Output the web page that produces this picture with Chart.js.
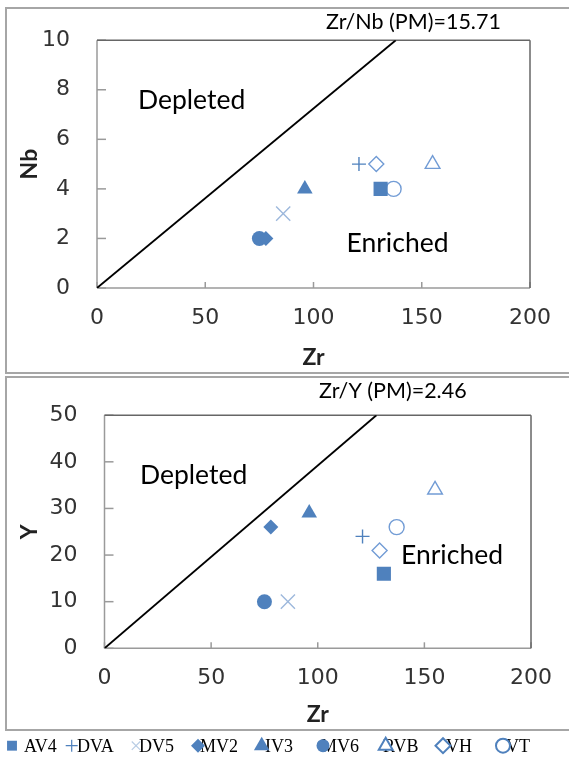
<!DOCTYPE html>
<html><head><meta charset="utf-8">
<script src="https://cdn.jsdelivr.net/npm/chart.js"></script>
<style>
html,body{margin:0;padding:0;background:#fff;overflow:hidden;}
#wrap{position:relative;width:569px;height:758px;overflow:hidden;background:#fff;}
.frame{position:absolute;border:2px solid #a6a6a6;box-sizing:border-box;}
canvas{position:absolute;left:0;}
</style></head><body>
<div id="wrap">
<div class="frame" style="left:5px;top:7px;width:620px;height:367px;"></div>
<div class="frame" style="left:5px;top:376px;width:620px;height:355px;"></div>
<canvas id="c1" width="569" height="375" style="top:0px;width:569px;height:375px"></canvas>
<canvas id="c2" width="569" height="383" style="top:375px;width:569px;height:383px"></canvas>
</div>
<script>
// ---- data ----
const categories = ['AV4','DVA','DV5','MV2','IV3','MV6','RVB','VH','VT'];
const zrValues  = [131, 121, 86, 78, 96, 75, 155, 129, 137];
const nbValues  = [4, 5, 3, 2, 4, 2, 5, 5, 4];
const yValues   = [16, 24, 10, 26, 29, 10, 34, 21, 26];
const zrTicks   = [0, 50, 100, 150, 200];
const nbTicks   = [0, 2, 4, 6, 8, 10];
const yTicks    = [0, 10, 20, 30, 40, 50];
const nbLineZr  = [0, 138];
const nbLineNb  = [0, 10];
const yLineZr   = [0, 127.5];
const yLineY    = [0, 50];
const nbLineLabel = 'Zr/Nb (PM)=15.71';
const yLineLabel  = 'Zr/Y (PM)=2.46';

// ---- styles ----
const FILL = '#4F81BD', OPEN = '#729CD5', LIGHT = '#9DB8DC';
const markerStyles = [
  {s:'rect',     r:10,  bg:FILL, bc:FILL, bw:0},
  {s:'cross',    r:7,   bg:FILL, bc:FILL, bw:1.4},
  {s:'crossRot', r:10,  bg:LIGHT, bc:LIGHT, bw:1.4},
  {s:'rectRot',  r:7.5, bg:FILL, bc:FILL, bw:0},
  {s:'triangle', r:9,   bg:FILL, bc:FILL, bw:0},
  {s:'circle',   r:7.5, bg:FILL, bc:FILL, bw:0},
  {s:'triangle', r:8.5, bg:'rgba(255,255,255,0)', bc:OPEN, bw:1.4},
  {s:'rectRot',  r:7.5, bg:'rgba(255,255,255,0)', bc:OPEN, bw:1.4},
  {s:'circle',   r:7.5, bg:'rgba(255,255,255,0)', bc:OPEN, bw:1.4}
];
const legendMarkers = [
  {s:'rect',     r:7,   bg:FILL, bc:FILL, bw:0},
  {s:'cross',    r:6,   bg:FILL, bc:FILL, bw:1.2},
  {s:'crossRot', r:6,   bg:'#B9CDE5', bc:'#B9CDE5', bw:1.2},
  {s:'rectRot',  r:7,   bg:FILL, bc:FILL, bw:0},
  {s:'triangle', r:9,   bg:FILL, bc:FILL, bw:0},
  {s:'circle',   r:6.5, bg:FILL, bc:FILL, bw:0},
  {s:'triangle', r:8,   bg:'#fff', bc:FILL, bw:2},
  {s:'rectRot',  r:7.5, bg:'#fff', bc:FILL, bw:2},
  {s:'circle',   r:7,   bg:'#fff', bc:FILL, bw:2}
];
const legendLayout = {y:370.7, base:376.5, markerX:[12,71.7,136,198,261.7,323,385.7,443,503], textX:[24,77,139,200,265,321,383,446,506]};

function pointDatasets(yVals){
  return categories.map((name,i)=>{
    const m = markerStyles[i];
    return {label:name, data:[{x:zrValues[i], y:yVals[i]}], showLine:false,
      pointStyle:m.s, pointRadius:m.r, pointHoverRadius:m.r,
      pointBackgroundColor:m.bg, pointBorderColor:m.bc, pointBorderWidth:m.bw, pointHoverBorderWidth:m.bw,
      backgroundColor:m.bg, borderColor:m.bc};
  });
}
function lineDataset(xs, ys){
  return {label:'PM', data:xs.map((v,i)=>({x:v, y:ys[i]})), showLine:true, borderColor:'#000',
    borderWidth:1.8, pointRadius:0, pointHoverRadius:0, fill:false, order:-1};
}

const frameTicks = {
  id:'frameTicks',
  beforeDatasetsDraw(chart){
    const {ctx, chartArea:a, scales:{x, y}} = chart;
    const ln=(x1,y1,x2,y2)=>{ctx.beginPath();ctx.moveTo(x1,y1);ctx.lineTo(x2,y2);ctx.stroke();};
    ctx.save();
    ctx.lineWidth = 1.5;
    ctx.strokeStyle = '#9a9a9a';
    ln(a.left,a.top,a.left,a.bottom); ln(a.left,a.bottom,a.right,a.bottom);
    x.ticks.forEach(t=>{const px=x.getPixelForValue(t.value); ln(px,a.bottom,px,a.bottom-6);});
    y.ticks.forEach(t=>{const py=y.getPixelForValue(t.value); ln(a.left,py,a.left+9,py);});
    ctx.strokeStyle = '#666';
    ln(a.left,a.top,a.right,a.top); ln(a.right,a.top,a.right,a.bottom);
    ctx.restore();
  }
};
const annotations = {
  id:'annotations',
  afterDraw(chart, args, opts){
    const ctx = chart.ctx;
    ctx.save();
    ctx.fillStyle = '#000'; ctx.textAlign='left'; ctx.textBaseline='alphabetic';
    (opts.items||[]).forEach(it=>{ ctx.font = it.font; ctx.fillText(it.text, it.x, it.y); });
    ctx.restore();
  }
};
const customLegend = {
  id:'customLegend',
  afterDraw(chart, args, opts){
    if(!opts.show) return;
    const ctx = chart.ctx;
    ctx.save();
    ctx.font = '18px "Liberation Serif"'; ctx.fillStyle='#000'; ctx.textAlign='left'; ctx.textBaseline='alphabetic';
    categories.forEach((name,i)=>{ ctx.fillText(name, legendLayout.textX[i], legendLayout.base); });
    categories.forEach((name,i)=>{
      const m = legendMarkers[i];
      ctx.fillStyle = m.bg; ctx.strokeStyle = m.bc; ctx.lineWidth = m.bw || 1;
      Chart.helpers.drawPoint(ctx, {pointStyle:m.s, radius:m.r, rotation:0, borderWidth:m.bw}, legendLayout.markerX[i], legendLayout.y);
    });
    ctx.restore();
  }
};

function makeChart(id, cfg){
  const tickFont = {family:'DejaVu Sans', size:22};
  const titleFont = {family:'Lato', size:23, weight:'bold'};
  return new Chart(document.getElementById(id), {
    type:'scatter',
    data:{datasets:[...cfg.points, cfg.line]},
    options:{
      responsive:false, animation:false, events:[],
      layout:{padding:cfg.padding},
      plugins:{legend:{display:false}, tooltip:{enabled:false},
        annotations:{items:cfg.texts}, customLegend:{show:cfg.legend}},
      scales:{
        x:{type:'linear', min:0, max:200,
          afterBuildTicks:s=>{s.ticks = zrTicks.map(v=>({value:v}));},
          ticks:{font:tickFont, color:'#333', padding:17},
          grid:{display:false, drawTicks:false}, border:{display:false},
          title:{display:true, text:'Zr', font:titleFont, color:'#222', padding:{top:0,bottom:2}},
          afterFit:s=>{s.height = cfg.xHeight;}},
        y:{type:'linear', min:0, max:cfg.yMax,
          afterBuildTicks:s=>{s.ticks = cfg.yTicks.map(v=>({value:v}));},
          ticks:{font:tickFont, color:'#333', padding:27},
          grid:{display:false, drawTicks:false}, border:{display:false},
          title:{display:true, text:cfg.yTitle, font:titleFont, color:'#222', padding:{top:16,bottom:0}},
          afterFit:s=>{s.width = cfg.yWidth;}}
      }
    },
    plugins:[frameTicks, annotations, customLegend]
  });
}

makeChart('c1', {
  points:pointDatasets(nbValues), line:lineDataset(nbLineZr, nbLineNb),
  padding:{left:0, top:33, right:39, bottom:2}, xHeight:85, yWidth:97, yMax:10, yTicks:nbTicks, yTitle:'Nb', legend:false,
  texts:[
    {text:nbLineLabel, x:326, y:29.3, font:'21.5px Lato'},
    {text:'Depleted', x:138, y:109, font:'26.5px Lato'},
    {text:'Enriched', x:346.5, y:251.7, font:'26.5px Lato'}
  ]
});
makeChart('c2', {
  points:pointDatasets(yValues), line:lineDataset(yLineZr, yLineY),
  padding:{left:0, top:26, right:34.5, bottom:28}, xHeight:81.7, yWidth:104.5, yMax:50, yTicks:yTicks, yTitle:'Y', legend:true,
  texts:[
    {text:yLineLabel, x:319, y:23.3, font:'21.5px Lato'},
    {text:'Depleted', x:140, y:109.3, font:'26.5px Lato'},
    {text:'Enriched', x:401, y:189, font:'26.5px Lato'}
  ]
});
</script>
</body></html>
